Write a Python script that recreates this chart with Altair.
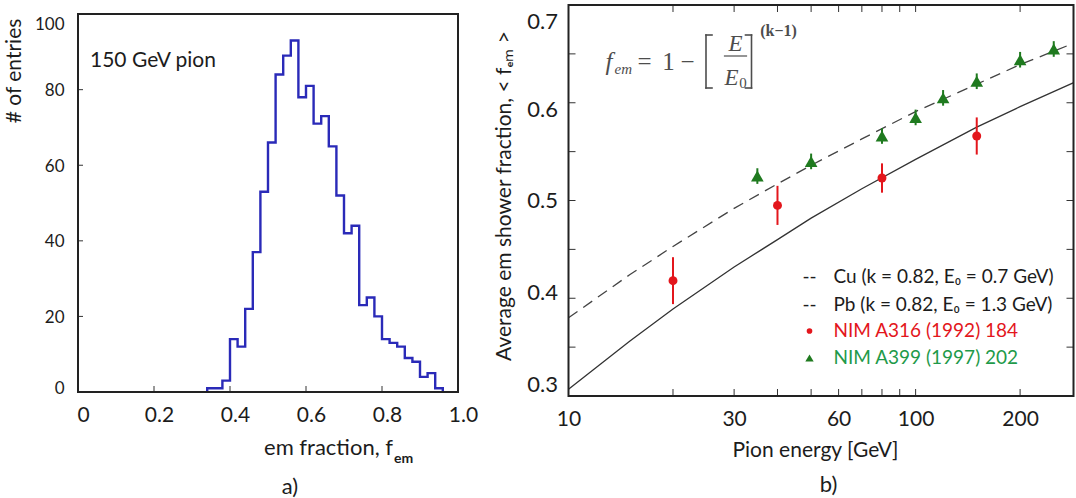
import altair as alt
import pandas as pd

FONT = "Lato"
SERIF = "Liberation Serif"

# ---------------- (a) em-fraction distribution, 150 GeV pions ----------------
bin_lo = [0.34, 0.36, 0.38, 0.40, 0.42, 0.44, 0.46, 0.48, 0.50, 0.52, 0.54,
          0.56, 0.58, 0.60, 0.62, 0.64, 0.66, 0.68, 0.70, 0.72, 0.74, 0.76,
          0.78, 0.80, 0.82, 0.84, 0.86, 0.88, 0.90, 0.92, 0.94]
bin_last_hi = 0.96
counts = [1, 1, 3, 14, 12, 22, 37, 53, 66, 84, 89, 93, 78, 81, 71, 73, 65, 52,
          42, 44, 23, 25, 20, 14, 13, 12, 9, 8, 4, 5, 1]

left_x_ticks = [0, 0.2, 0.4, 0.6, 0.8, 1.0]
left_y_ticks = [0, 20, 40, 60, 80, 100]
left_x_inner = [0.2, 0.4, 0.6, 0.8]
left_y_inner = [20, 40, 60, 80]
left_frame = {"x0": [0.0], "x1": [1.0], "y0": [0], "y1": [100]}

# ---------------- (b) average em fraction vs pion energy ----------------
model_E = [10, 15, 20, 30, 40, 50, 70, 100, 150, 200, 300]
cu_fem = [0.380, 0.424, 0.453, 0.492, 0.517, 0.536, 0.563, 0.591, 0.619, 0.639, 0.664]
pb_fem = [0.307, 0.356, 0.389, 0.432, 0.460, 0.482, 0.512, 0.542, 0.575, 0.596, 0.624]

nim316_E = [20, 40, 80, 150]
nim316_fem = [0.418, 0.495, 0.523, 0.566]
nim316_err = [0.024, 0.020, 0.015, 0.019]

nim399_E = [35, 50, 80, 100, 120, 150, 200, 250]
nim399_fem = [0.525, 0.540, 0.566, 0.585, 0.605, 0.622, 0.644, 0.655]
nim399_err = [0.008, 0.008, 0.008, 0.008, 0.008, 0.008, 0.008, 0.008]

right_x_ticks = [10, 30, 60, 100, 200]
right_y_ticks = [0.3, 0.4, 0.5, 0.6, 0.7]
right_x_inner = [20, 30, 40, 50, 60, 70, 80, 90, 100, 200]
right_y_inner = [0.35, 0.40, 0.45, 0.50, 0.55, 0.60, 0.65]
right_x_domain = [10, 285]
right_y_domain = [0.3, 0.7]

legend_rows = ["Cu (k = 0.82, E\u2080 = 0.7 GeV)", "Pb (k = 0.82, E\u2080 = 1.3 GeV)",
               "NIM A316 (1992) 184", "NIM A399 (1997) 202"]

RED = "#e3161c"
GREEN_MARK = "#1f7a1f"
GREEN_TEXT = "#1f9a4a"
INK = "#1c1c1c"

WL, HL = 380, 387
WR, HR = 505, 391


def label(text, x, y, size, angle=0, align="center", color=INK, weight="normal",
          font=FONT, style="normal", baseline="middle"):
    return alt.Chart(pd.DataFrame({"t": [text]})).mark_text(
        align=align, baseline=baseline, angle=angle, fontSize=size, font=font,
        color=color, fontWeight=weight, fontStyle=style
    ).encode(text="t:N", x=alt.value(x), y=alt.value(y))


def stroke(x1, y1, x2, y2, color, width):
    return alt.Chart(pd.DataFrame({"k": [0]})).mark_rule(
        color=color, strokeWidth=width, strokeCap="square").encode(
        x=alt.value(x1), y=alt.value(y1), x2=alt.value(x2), y2=alt.value(y2))


# ---------------- left panel ----------------
xl_scale = alt.Scale(domain=[0, 1], nice=False, zero=False)
yl_scale = alt.Scale(domain=[0, 102.4], nice=False, zero=False)
xl_axis = alt.Axis(values=left_x_ticks, title=None, ticks=False, tickSize=0, domain=False,
                   grid=False, labelFontSize=21, labelFont=FONT, labelColor=INK,
                   labelPadding=12, labelOffset=5, labelFlush=False,
                   labelExpr="datum.value == 0 ? '0' : format(datum.value, '.1f')")
yl_axis = alt.Axis(values=left_y_ticks, title=None, ticks=False, tickSize=0, domain=False,
                   grid=False, labelFontSize=17, labelFont=FONT, labelColor=INK,
                   labelPadding=14, labelFlush=False,
                   labelOffset={"condition": [{"test": "datum.value == 100", "value": 10},
                                              {"test": "datum.value == 0", "value": -4}],
                                "value": 1})


def XL(field):
    return alt.X(field, type="quantitative", scale=xl_scale, axis=xl_axis)


def YL(field):
    return alt.Y(field, type="quantitative", scale=yl_scale, axis=yl_axis)


hist_df = pd.DataFrame({
    "x": [bin_lo[0]] + bin_lo + [bin_last_hi],
    "n": [0] + counts + [0],
})
hist_df["i"] = range(len(hist_df))

hist = alt.Chart(hist_df).mark_line(interpolate="step-after", color="#2a2ab8",
                                    strokeWidth=2.4).encode(
    x=XL("x"), y=YL("n"), order=alt.Order("i:Q"))

lframe = alt.Chart(pd.DataFrame(left_frame)).mark_rect(
    fillOpacity=0, stroke="#222", strokeWidth=2).encode(
    x=XL("x0"), x2="x1", y=YL("y0"), y2="y1")

lxt = alt.Chart(pd.DataFrame({"v": left_x_inner})).mark_rule(color="#333", strokeWidth=1).encode(
    x=XL("v"), y=alt.value(HL), y2=alt.value(HL - 6))
lyt = alt.Chart(pd.DataFrame({"v": left_y_inner})).mark_rule(color="#333", strokeWidth=1).encode(
    y=YL("v"), x=alt.value(0), x2=alt.value(5))

left = alt.layer(
    hist, lxt, lyt, lframe,
    label("# of entries", -63, 66, 21, angle=270),
    label("150 GeV pion", 12, 56, 21, align="left"),
    label("em fraction, f", 315, 443, 22, align="right"),
    label("em", 316, 454, 14, align="left", weight="bold"),
    label("a)", 212, 482, 22),
).properties(width=WL, height=HL)

# ---------------- right panel ----------------
xr_scale = alt.Scale(type="log", domain=right_x_domain, nice=False, zero=False)
yr_scale = alt.Scale(domain=right_y_domain, nice=False, zero=False)
xr_axis = alt.Axis(values=right_x_ticks, format="d", title=None, ticks=False, tickSize=0,
                   domain=False, grid=False, labelFontSize=21, labelFont=FONT,
                   labelColor=INK, labelPadding=12, labelFlush=False, labelOverlap=False)
yr_axis = alt.Axis(values=right_y_ticks, format=".1f", title=None, ticks=False, tickSize=0,
                   domain=False, grid=False, labelFontSize=22, labelFont=FONT,
                   labelColor=INK, labelPadding=11, labelFlush=False,
                   labelOffset={"condition": [{"test": "datum.value > 0.65", "value": 16},
                                              {"test": "datum.value > 0.55", "value": 7},
                                              {"test": "datum.value < 0.35", "value": -12},
                                              {"test": "datum.value < 0.45", "value": -6}],
                                "value": 0})


def XR(field):
    return alt.X(field, type="quantitative", scale=xr_scale, axis=xr_axis)


def YR(field):
    return alt.Y(field, type="quantitative", scale=yr_scale, axis=yr_axis)


model_df = pd.DataFrame({"E": model_E, "cu": cu_fem, "pb": pb_fem})
cu_line = alt.Chart(model_df).mark_line(color="#444", strokeWidth=1.3,
                                        strokeDash=[11, 7], clip=True).encode(
    x=XR("E"), y=YR("cu"))
pb_line = alt.Chart(model_df).mark_line(color="#333", strokeWidth=1.3, clip=True).encode(
    x=XR("E"), y=YR("pb"))

red_df = pd.DataFrame({"E": nim316_E, "f": nim316_fem, "err": nim316_err})
red_df["lo"] = red_df["f"] - red_df["err"]
red_df["hi"] = red_df["f"] + red_df["err"]
green_df = pd.DataFrame({"E": nim399_E, "f": nim399_fem, "err": nim399_err})
green_df["lo"] = green_df["f"] - green_df["err"]
green_df["hi"] = green_df["f"] + green_df["err"]

red_err = alt.Chart(red_df).mark_rule(color=RED, strokeWidth=2).encode(
    x=XR("E"), y=YR("lo"), y2="hi")
red_pts = alt.Chart(red_df).mark_point(shape="circle", filled=True, size=80,
                                       color=RED, opacity=1).encode(x=XR("E"), y=YR("f"))
green_err = alt.Chart(green_df).mark_rule(color=GREEN_MARK, strokeWidth=2).encode(
    x=XR("E"), y=YR("lo"), y2="hi")
green_pts = alt.Chart(green_df).mark_point(shape="triangle-up", filled=True, size=160,
                                           color=GREEN_MARK, opacity=1).encode(
    x=XR("E"), y=YR("f"))

rframe = alt.Chart(pd.DataFrame({"x0": [right_x_domain[0]], "x1": [right_x_domain[1]],
                                 "y0": [right_y_domain[0]], "y1": [right_y_domain[1]]})
                   ).mark_rect(fillOpacity=0, stroke="#222", strokeWidth=2).encode(
    x=XR("x0"), x2="x1", y=YR("y0"), y2="y1")

rxt_df = pd.DataFrame({"v": right_x_inner})
ryt_df = pd.DataFrame({"v": right_y_inner})
rxt_b = alt.Chart(rxt_df).mark_rule(color="#333", strokeWidth=1).encode(
    x=XR("v"), y=alt.value(HR), y2=alt.value(HR - 7))
rxt_t = alt.Chart(rxt_df).mark_rule(color="#333", strokeWidth=1).encode(
    x=XR("v"), y=alt.value(0), y2=alt.value(7))
ryt_l = alt.Chart(ryt_df).mark_rule(color="#333", strokeWidth=1).encode(
    y=YR("v"), x=alt.value(0), x2=alt.value(7))
ryt_r = alt.Chart(ryt_df).mark_rule(color="#333", strokeWidth=1).encode(
    y=YR("v"), x=alt.value(WR - 7), x2=alt.value(WR))

# legend
leg_y = [272, 300, 326, 353]
legend_layers = [
    label("--", 241, leg_y[0], 19),
    label("--", 241, leg_y[1], 19),
    label(legend_rows[0], 265, leg_y[0], 19, align="left"),
    label(legend_rows[1], 265, leg_y[1], 19, align="left"),
    label(legend_rows[2], 265, leg_y[2], 19, align="left", color=RED),
    label(legend_rows[3], 265, leg_y[3], 19, align="left", color=GREEN_TEXT),
    alt.Chart(pd.DataFrame({"k": [0]})).mark_point(shape="circle", filled=True, size=32,
                                                   color=RED, opacity=1).encode(
        x=alt.value(241), y=alt.value(leg_y[2])),
    alt.Chart(pd.DataFrame({"k": [0]})).mark_point(shape="triangle-up", filled=True, size=70,
                                                   color=GREEN_MARK, opacity=1).encode(
        x=alt.value(241), y=alt.value(leg_y[3])),
]

# model formula  f_em = 1 - [E/E0]^(k-1)
FC = "#4d4d4d"
formula_layers = [
    label("f", 37, 65, 25, align="left", font=SERIF, style="italic", color=FC,
          baseline="alphabetic"),
    label("em", 46, 69, 15, align="left", font=SERIF, style="italic", color=FC,
          baseline="alphabetic"),
    label("=", 76, 65, 25, font=SERIF, color=FC, baseline="alphabetic"),
    label("1", 100, 65, 25, font=SERIF, color=FC, baseline="alphabetic"),
    label("\u2212", 119, 65, 25, font=SERIF, color=FC, baseline="alphabetic"),
    # brackets
    stroke(137.5, 30, 137.5, 83, FC, 1.6),
    stroke(137.5, 30, 143.5, 30, FC, 1.6),
    stroke(137.5, 83, 143.5, 83, FC, 1.6),
    stroke(183, 30, 183, 83, FC, 1.6),
    stroke(177, 30, 183, 30, FC, 1.6),
    stroke(177, 83, 183, 83, FC, 1.6),
    label("E", 167, 39, 23, font=SERIF, style="italic", color=FC),
    label("E", 163, 73, 23, font=SERIF, style="italic", color=FC),
    label("0", 174.5, 78, 15, font=SERIF, color=FC),
    stroke(156, 51, 178, 51, FC, 1.2),
    label("(k\u22121)", 210, 26, 16, font=SERIF, color=FC, weight="bold"),
]

right = alt.layer(
    pb_line, cu_line, red_err, red_pts, green_err, green_pts,
    rxt_b, rxt_t, ryt_l, ryt_r, rframe,
    *legend_layers, *formula_layers,
    label("Average em shower fraction, < f\u2091\u2098 >", -64, 191, 21, angle=270),
    label("Pion energy [GeV]", 247, 446, 21),
    label("b)", 260, 480, 22),
).properties(width=WR, height=HR)

chart = alt.hconcat(left, right, spacing=110.5, bounds="flush").configure_view(
    stroke=None
).properties(
    padding={"left": 4, "top": 4, "right": 0, "bottom": 0},
    background="white",
)

chart.save("out.html", embed_options={"renderer": "svg", "actions": False})
